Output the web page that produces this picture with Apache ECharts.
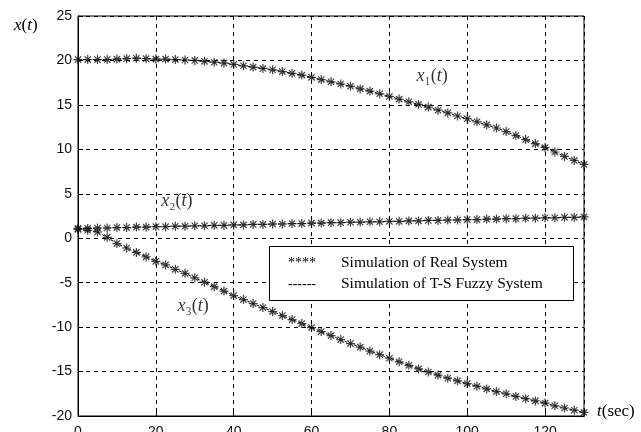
<!DOCTYPE html>
<html>
<head>
<meta charset="utf-8">
<script src="https://cdn.jsdelivr.net/npm/echarts@6/dist/echarts.min.js"></script>
<style>html,body{margin:0;padding:0;background:#fff}#c{width:641px;height:432px}</style>
</head>
<body>
<div id="c"></div>
<script>
var tValues = [0,2.5,5,7.5,10,12.5,15,17.5,20,22.5,25,27.5,30,32.5,35,37.5,40,42.5,45,47.5,50,52.5,55,57.5,60,62.5,65,67.5,70,72.5,75,77.5,80,82.5,85,87.5,90,92.5,95,97.5,100,102.5,105,107.5,110,112.5,115,117.5,120,122.5,125,127.5,130];
var x1Values = [20.1,20.1,20.1,20.1,20.15,20.2,20.25,20.2,20.15,20.15,20.1,20.05,20.0,19.9,19.8,19.7,19.55,19.4,19.25,19.1,18.95,18.75,18.55,18.35,18.1,17.85,17.6,17.35,17.1,16.8,16.55,16.25,15.95,15.65,15.35,15.05,14.75,14.4,14.1,13.75,13.45,13.1,12.75,12.4,12.0,11.55,11.1,10.65,10.2,9.7,9.2,8.75,8.3];
var x2Values = [1.1,1.1,1.15,1.15,1.2,1.2,1.25,1.25,1.3,1.3,1.35,1.35,1.4,1.4,1.45,1.45,1.5,1.5,1.55,1.55,1.6,1.6,1.65,1.65,1.7,1.7,1.75,1.75,1.8,1.8,1.85,1.85,1.9,1.9,1.95,1.95,2.0,2.0,2.05,2.05,2.1,2.1,2.15,2.15,2.2,2.2,2.25,2.25,2.3,2.3,2.35,2.35,2.4];
var x3Values = [1.0,0.9,0.7,0.1,-0.6,-1.1,-1.6,-2.1,-2.6,-3.0,-3.5,-3.95,-4.45,-4.95,-5.45,-5.95,-6.45,-6.9,-7.35,-7.8,-8.25,-8.7,-9.15,-9.6,-10.05,-10.5,-10.95,-11.4,-11.85,-12.25,-12.7,-13.1,-13.5,-13.9,-14.3,-14.7,-15.05,-15.4,-15.75,-16.05,-16.35,-16.65,-16.95,-17.25,-17.5,-17.8,-18.05,-18.3,-18.55,-18.85,-19.1,-19.35,-19.6];
var xTicks = [0,20,40,60,80,100,120];
var yTicks = [-20,-15,-10,-5,0,5,10,15,20,25];
var legendTexts = ['Simulation of Real System','Simulation of T-S Fuzzy System'];
var legendSymbols = ['****','------'];
var curveLabelSubs = ['\u2081','\u2082','\u2083'];
var curveLabelT = [91, 25.4, 29.6];
var curveLabelV = [18.2, 4.2, -7.6];

function pairs(vals){ return tValues.map(function(t,i){ return [t, vals[i]]; }); }

var star = 'path://M0,-10L0,10M-10,0L10,0M-7,-7L7,7M-7,7L7,-7';
var serif = '"Liberation Serif","Times New Roman",serif';
function richLab(size){ return {
  it:{fontFamily:serif,fontStyle:'italic',fontSize:size,color:'#000'},
  n:{fontFamily:serif,fontSize:size,color:'#000'},
  sub:{fontFamily:serif,fontSize:size,color:'#000'}
}; }

var series = [];
[x1Values,x2Values,x3Values].forEach(function(vals,k){
  series.push({
    type:'line', name:legendTexts[1], data:pairs(vals), showSymbol:false, smooth:false,
    lineStyle:{color:'#000',width:1,type:[3,2]}, z:2, animation:false
  });
  series.push({
    type:'scatter', name:legendTexts[0], data:pairs(vals), symbol:star, symbolSize:9,
    itemStyle:{color:'none',borderColor:'#111',borderWidth:1.2}, z:3, animation:false
  });
});
series.push({
  type:'scatter', name:'labels', z:5, animation:false, silent:true,
  symbol:'circle', symbolSize:1, itemStyle:{color:'rgba(0,0,0,0)'},
  data:curveLabelT.map(function(t,k){ return {value:[t, curveLabelV[k]], sub:curveLabelSubs[k]}; }),
  label:{show:true, position:'inside', color:'#000', textBorderWidth:0, rich:richLab(18),
    formatter:function(p){ return '{it|x}{sub|'+p.data.sub+'}{n|(}{it|t}{n|)}'; }}
});

var chart = echarts.init(document.getElementById('c'));
chart.setOption({
  animation:false,
  backgroundColor:'#fff',
  grid:{left:78,right:57,top:16,bottom:16,outerBoundsMode:'none',containLabel:false,show:true,borderColor:'#000',borderWidth:1,backgroundColor:'transparent'},
  xAxis:{type:'value',min:0,max:130,interval:20,
    axisLine:{show:true,onZero:false,lineStyle:{color:'#000'}},
    axisTick:{show:true,inside:true,length:5,lineStyle:{color:'#000'}},
    axisLabel:{color:'#111',fontFamily:'"Liberation Sans",Arial,sans-serif',fontSize:14,margin:9,
      formatter:function(v){ return xTicks.indexOf(v)>=0 ? String(v) : ''; }},
    splitLine:{show:true,lineStyle:{color:'#000',type:[4,4],width:1}}
  },
  yAxis:{type:'value',min:-20,max:25,interval:5,
    axisLine:{show:true,onZero:false,lineStyle:{color:'#000'}},
    axisTick:{show:true,inside:true,length:5,lineStyle:{color:'#000'}},
    axisLabel:{color:'#111',fontFamily:'"Liberation Sans",Arial,sans-serif',fontSize:14,margin:6,
      formatter:function(v){ return yTicks.indexOf(v)>=0 ? String(v) : ''; }},
    splitLine:{show:true,lineStyle:{color:'#000',type:[4,4],width:1}}
  },
  series:series,
  graphic:[
    {type:'rect',shape:{x:269.5,y:246.5,width:304,height:54},style:{fill:'#fff',stroke:'#000',lineWidth:1},z:100},
    {type:'text',x:288,y:263,style:{text:legendSymbols[0],font:'14px "Liberation Serif",serif',fill:'#000',verticalAlign:'middle'},z:101},
    {type:'text',x:288,y:284,style:{text:legendSymbols[1],font:'14px "Liberation Serif",serif',fill:'#000',verticalAlign:'middle'},z:101},
    {type:'text',x:341,y:263,style:{text:legendTexts[0],font:'15.5px "Liberation Serif",serif',fill:'#000',verticalAlign:'middle'},z:101},
    {type:'text',x:341,y:284,style:{text:legendTexts[1],font:'15.5px "Liberation Serif",serif',fill:'#000',verticalAlign:'middle'},z:101},
    {type:'text',x:14,y:26,style:{text:'{it|x}{n|(}{it|t}{n|)}',rich:richLab(17),verticalAlign:'middle'},z:101},
    {type:'text',x:597,y:412,style:{text:'{it|t}{n|(sec)}',rich:richLab(17),verticalAlign:'middle'},z:101}
  ]
});
</script>
</body>
</html>
